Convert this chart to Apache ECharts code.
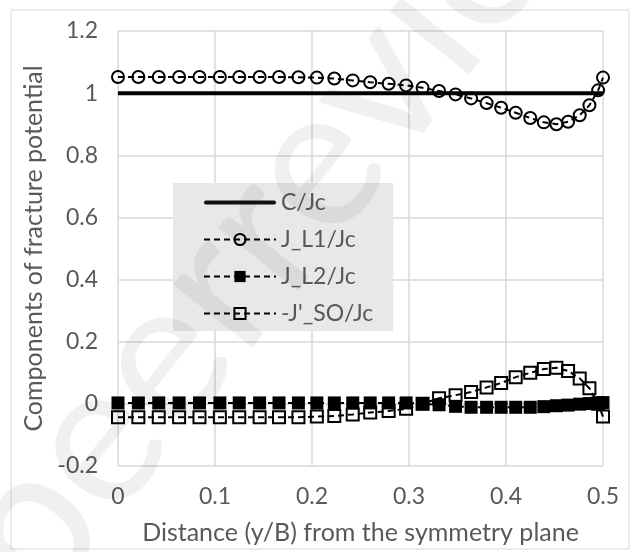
<!DOCTYPE html>
<html>
<head>
<meta charset="utf-8">
<script src="https://cdn.jsdelivr.net/npm/echarts@6/dist/echarts.min.js"></script>
<style>
  html, body { margin: 0; padding: 0; background: #fff; }
  #main { width: 632px; height: 552px; }
</style>
</head>
<body>
<div id="main"></div>
<script>
// distance y/B of each sampled point
var xVals = [0, 0.021, 0.042, 0.063, 0.084, 0.105, 0.125, 0.146, 0.166, 0.186,
             0.205, 0.223, 0.242, 0.260, 0.279, 0.297, 0.314, 0.331, 0.348, 0.364,
             0.380, 0.395, 0.410, 0.425, 0.439, 0.452, 0.464, 0.476, 0.486, 0.495, 0.5];
var cJc = [1, 1, 1, 1, 1, 1, 1, 1, 1, 1, 1, 1, 1, 1, 1, 1,
           1, 1, 1, 1, 1, 1, 1, 1, 1, 1, 1, 1, 1, 1, 1];
var jL1 = [1.052, 1.052, 1.052, 1.052, 1.052, 1.052, 1.052, 1.052, 1.052, 1.051,
           1.050, 1.047, 1.041, 1.035, 1.030, 1.025, 1.017, 1.007, 0.996, 0.983,
           0.968, 0.953, 0.937, 0.920, 0.906, 0.900, 0.908, 0.929, 0.961, 1.009, 1.050];
var jL2 = [0.003, 0.003, 0.003, 0.003, 0.003, 0.003, 0.003, 0.003, 0.003, 0.003,
           0.003, 0.003, 0.003, 0.003, 0.003, 0.003, 0.0, -0.003, -0.008, -0.011,
           -0.011, -0.011, -0.011, -0.011, -0.009, -0.006, -0.004, -0.001, 0.001, 0.003, 0.004];
var jSO = [-0.043, -0.043, -0.043, -0.043, -0.043, -0.043, -0.043, -0.043, -0.043, -0.043,
           -0.041, -0.039, -0.034, -0.028, -0.023, -0.016, 0.0, 0.018, 0.028, 0.038,
           0.053, 0.067, 0.086, 0.100, 0.112, 0.116, 0.106, 0.082, 0.050, 0.0, -0.041];
var seriesNames = ['C/Jc', 'J_L1/Jc', 'J_L2/Jc', "-J'_SO/Jc"];

var FONT = 'Lato';
var GRAY = '#595959';

function pairs(arr) {
    return xVals.map(function (x, i) { return [x, arr[i]]; });
}

var chart = echarts.init(document.getElementById('main'));
var dashed = { color: '#000', width: 2, type: [6, 4] };

var option = {
    animation: false,
    backgroundColor: '#fff',
    textStyle: { fontFamily: FONT },
    grid: { left: 118, right: 29, top: 31, bottom: 86 },
    legend: {
        orient: 'vertical',
        left: 173,
        top: 183,
        padding: [8, 20, 6, 30],
        itemGap: 14,
        itemWidth: 72,
        itemHeight: 14,
        backgroundColor: '#e8e8e8',
        textStyle: { fontSize: 23, color: GRAY, fontFamily: FONT },
        data: [
            // plain thick line as the legend key, no marker
            { name: seriesNames[0], icon: 'path://M2,0H70A2,2 0 0 1 70,4H2A2,2 0 0 1 2,0Z', itemStyle: { color: '#111' } },
            seriesNames[1], seriesNames[2], seriesNames[3]
        ]
    },
    xAxis: {
        type: 'value',
        min: 0, max: 0.5, interval: 0.1,
        name: 'Distance (y/B) from the symmetry plane',
        nameLocation: 'middle',
        nameGap: 54,
        nameTextStyle: { fontSize: 25, color: GRAY, fontFamily: FONT },
        axisLine: { show: false },
        axisTick: { show: false },
        axisLabel: { fontSize: 23, color: GRAY, margin: 19, fontFamily: FONT },
        splitLine: { lineStyle: { color: '#d9d9d9', width: 1.5 } }
    },
    yAxis: {
        type: 'value',
        min: -0.2, max: 1.2, interval: 0.2,
        name: 'Components of fracture potential',
        nameLocation: 'middle',
        nameGap: 70,
        nameTextStyle: { fontSize: 25, color: GRAY, fontFamily: FONT },
        axisLine: { show: false },
        axisTick: { show: false },
        axisLabel: { fontSize: 23, color: GRAY, margin: 20, fontFamily: FONT },
        splitLine: { lineStyle: { color: '#d9d9d9', width: 1.5 } }
    },
    graphic: [
        {
            type: 'rect',
            shape: { x: 11, y: 10, width: 618, height: 539 },
            style: { fill: 'none', stroke: '#d9d9d9', lineWidth: 1 },
            silent: true
        },
        {
            type: 'text',
            x: -8, y: 572,
            rotation: 0.9,
            z: 100,
            silent: true,
            style: {
                text: 'peerreview',
                font: '200px Lato',
                fill: 'rgba(0,0,0,0.06)',
                textAlign: 'left',
                textVerticalAlign: 'middle'
            }
        }
    ],
    series: [
        {
            name: seriesNames[0],
            type: 'line',
            data: pairs(cJc),
            symbol: 'none',
            lineStyle: { color: '#000', width: 4 },
            itemStyle: { color: '#000' }
        },
        {
            name: seriesNames[1],
            type: 'line',
            data: pairs(jL1),
            symbol: 'circle',
            symbolSize: 12,
            lineStyle: dashed,
            itemStyle: { color: 'rgba(0,0,0,0)', borderColor: '#000', borderWidth: 2 }
        },
        {
            name: seriesNames[2],
            type: 'line',
            data: pairs(jL2),
            symbol: 'rect',
            symbolSize: 13,
            lineStyle: dashed,
            itemStyle: { color: '#000' }
        },
        {
            name: seriesNames[3],
            type: 'line',
            data: pairs(jSO),
            symbol: 'rect',
            symbolSize: 12,
            lineStyle: dashed,
            itemStyle: { color: 'rgba(0,0,0,0)', borderColor: '#000', borderWidth: 2 }
        }
    ]
};

option && chart.setOption(option);
</script>
</body>
</html>
